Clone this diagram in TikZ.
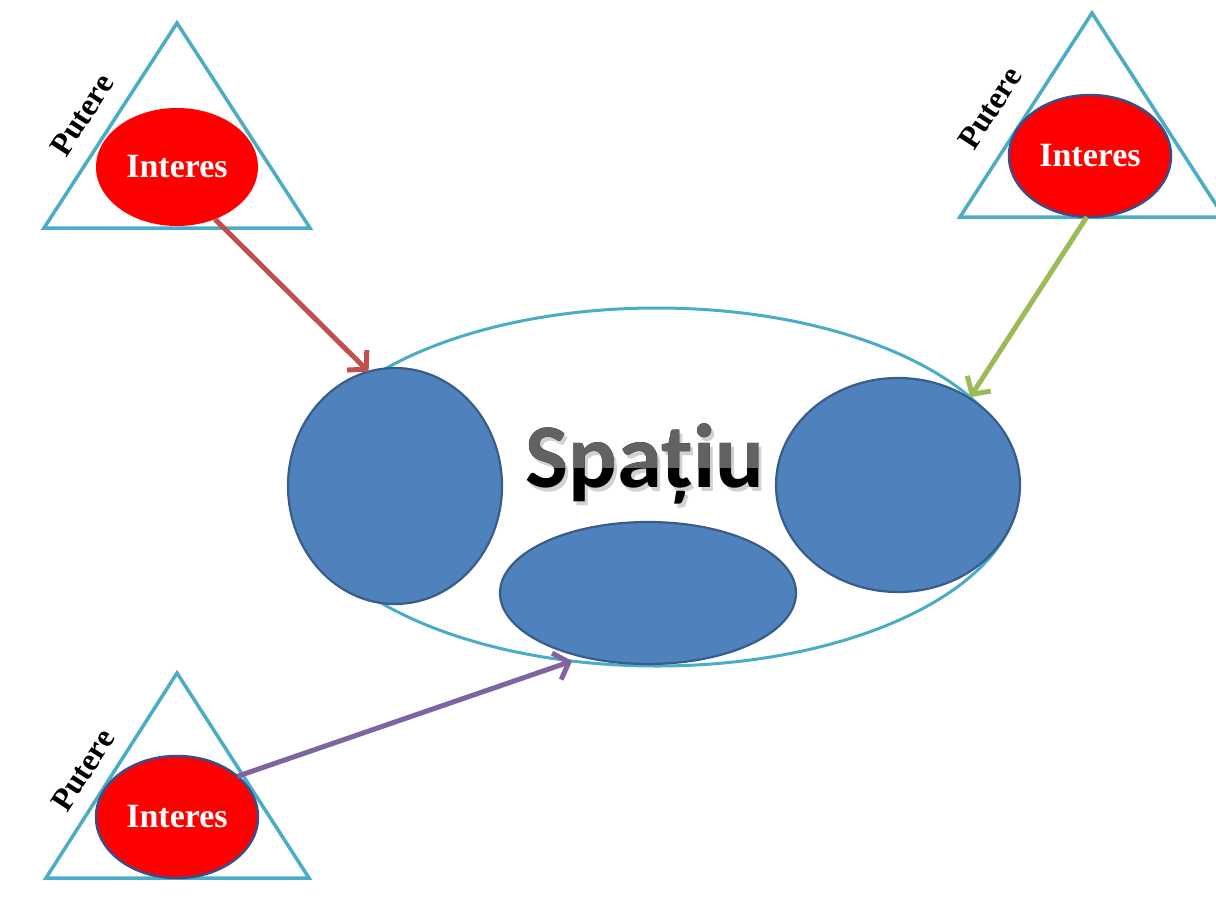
\documentclass[tikz,border=0pt]{standalone}
\usepackage{fontspec}
\setmainfont{Liberation Serif}
\newfontfamily\spfont{Carlito}
\usetikzlibrary{shapes.geometric,arrows.meta}
\definecolor{cyanline}{HTML}{4BACC6}
\definecolor{blobfill}{HTML}{4F81BD}
\definecolor{blobline}{HTML}{385D8A}
\definecolor{redfill}{HTML}{FF0000}
\definecolor{redline}{HTML}{3E4C88}
\definecolor{arrred}{HTML}{C0504D}
\definecolor{arrgreen}{HTML}{9BBB59}
\definecolor{arrpurple}{HTML}{8064A2}
\definecolor{spgray}{HTML}{626262}
\tikzset{
  tri/.style={draw=cyanline, line width=3.5pt, line join=miter},
  interest/.style={ellipse, fill=redfill, minimum width=162pt, inner sep=0pt, outer sep=0pt,
    text=white, font=\bfseries\fontsize{34}{34}\selectfont},
  ringed/.style={draw=redline, line width=2.5pt},
  power/.style={font=\bfseries\fontsize{32}{32}\selectfont, rotate=57, inner sep=0pt},
  blob/.style={ellipse, fill=blobfill, draw=blobline, line width=2.2pt, inner sep=0pt, outer sep=0pt},
  link/.style={line width=5pt, -{Straight Barb[length=13pt,width=28pt]}},
  sptext/.style={font=\spfont\bfseries\fontsize{91}{91}\selectfont, anchor=base, inner sep=0pt}
}
\begin{document}
\begin{tikzpicture}[x=1pt,y=-1pt]
\useasboundingbox (0,0) rectangle (1216,919);

% triangles
\coordinate (tla) at (177,23);  \coordinate (tlb) at (44,228);  \coordinate (tlc) at (310,228);
\coordinate (tra) at (1092,13); \coordinate (trb) at (960,217); \coordinate (trc) at (1224,217);
\coordinate (bla) at (177,673); \coordinate (blb) at (46,878);  \coordinate (blc) at (309,878);
\draw[tri] (tla) -- (tlb) -- (tlc) -- cycle;
\draw[tri] (tra) -- (trb) -- (trc) -- cycle;
\draw[tri] (bla) -- (blb) -- (blc) -- cycle;

% interest ellipses
\node[interest, minimum height=118pt] (tl) at (177,167) {Interes};
\node[interest, ringed, minimum height=122pt] (tr) at (1090,156) {Interes};
\node[interest, ringed, minimum height=122pt] (bl) at (177,817) {Interes};

% power labels
\node[power] (ptl) at (82,115) {Putere};
\node[power] (ptr) at (990,108) {Putere};
\node[power] (pbl) at (83,770) {Putere};

% space
\node[ellipse, draw=cyanline, line width=3pt, minimum width=724pt, minimum height=358pt,
  inner sep=0pt, outer sep=0pt] (space) at (657,487) {};
\node[blob, minimum width=214pt, minimum height=236pt] (left) at (395,486) {};
\node[blob, minimum width=244pt, minimum height=214pt] (right) at (898,485) {};
\node[blob, minimum width=296pt, minimum height=142pt] (bottom) at (648,593) {};

% title with shading
\node[sptext, text=black!30, opacity=0.6] (spshadow) at (648,491) {Spațiu};
\node[sptext, text=black] (sp) at (645,487) {Spațiu};
\begin{scope}
  \clip (500,400) rectangle (800,467);
  \node[sptext, text=spgray] (sptop) at (645,487) {Spațiu};
\end{scope}

% arrows
\draw[link, arrred] (tl.-54) -- (left.103);
\draw[link, arrgreen] (tr.-93) -- (space.16);
\draw[link, arrpurple] (bl.34) -- (space.-116);
\end{tikzpicture}
\end{document}
